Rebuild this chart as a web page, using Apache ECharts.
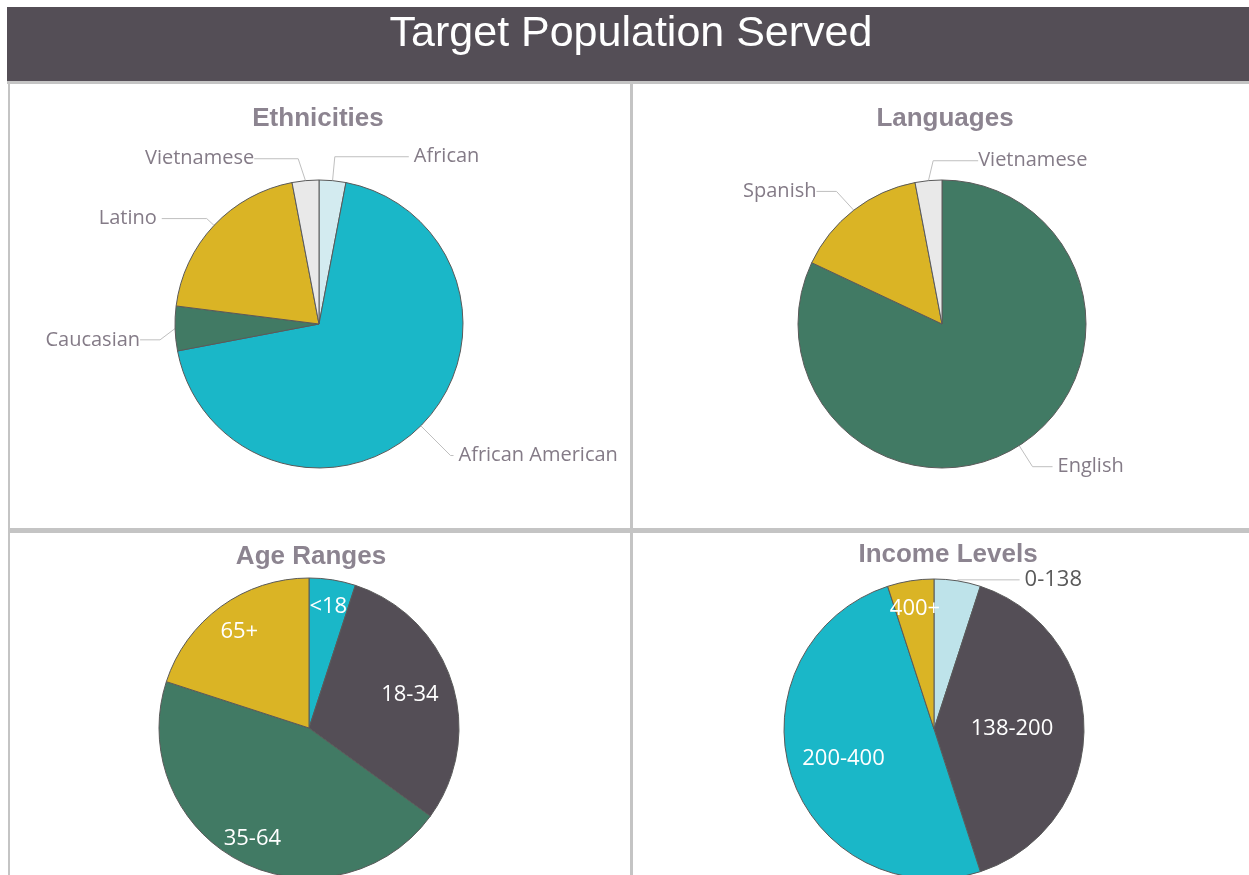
<!DOCTYPE html>
<html>
<head>
<meta charset="utf-8">
<title>Target Population Served</title>
<script src="https://cdn.jsdelivr.net/npm/echarts@6/dist/echarts.min.js"></script>
<style>
  html, body { margin: 0; padding: 0; background: #fff; }
  #main { width: 1249px; height: 875px; }
</style>
</head>
<body>
<div id="main"></div>
<script>
// data (percent shares)
const ethnicityNames = ['African', 'African American', 'Caucasian', 'Latino', 'Vietnamese'];
const ethnicityValues = [3, 69, 5, 20, 3];
const languageNames = ['English', 'Spanish', 'Vietnamese'];
const languageValues = [82, 15, 3];
const ageNames = ['<18', '18-34', '35-64', '65+'];
const ageValues = [5, 30, 45, 20];
const incomeNames = ['0-138', '138-200', '200-400', '400+'];
const incomeValues = [5, 40, 50, 5];

// colours
const TEAL = '#1ab7c8', GOLD = '#dab425', GREEN = '#417a64', DARK = '#544e56';
const ethnicityColors = ['#d3ebf0', TEAL, GREEN, GOLD, '#e9e9e9'];
const languageColors = [GREEN, GOLD, '#e9e9e9'];
const ageColors = [TEAL, DARK, GREEN, GOLD];
const incomeColors = ['#bee3ea', DARK, TEAL, GOLD];

// leader line lengths [length, length2] for the outside labels
const ethnicityLines = [[24, 74], [42, 3], [10, 20], [10, 45], [24, 44]];
const languageLines = [[25, 20], [20, 20], [22, 45]];
// nudges [dx, dy] for outside labels (Excel puts some on the other side)
const ethnicityShift = [[0, 0], [0, 0], [0, 11], [0, 0], [0, 2]];
const languageShift = [[0, 0], [0, -3], [211, 2]];
// how far out (share of radius) the inner labels sit
const ageLabelPos = [0.79, 0.68, 0.8, 0.76];
const incomeLabelPos = [null, 0.5, 0.61, 0.78];

const LABEL_FONT = 'Open Sans';
const labelGray = '#847b87';
const titleGray = '#8c8490';
const border = '#c4c4c4';

function outsidePie(names, values, colors, lines, shift, center, radius) {
  return {
    type: 'pie',
    center: center,
    radius: radius,
    startAngle: 90,
    clockwise: true,
    animation: false,
    itemStyle: { borderColor: '#5a5a5a', borderWidth: 1 },
    label: {
      show: true,
      position: 'outside',
      formatter: '{b}',
      color: labelGray,
      fontFamily: LABEL_FONT,
      fontSize: 20
    },
    labelLine: { show: true, lineStyle: { color: '#bfbfbf', width: 1 } },
    // moving a label with x/y makes echarts redraw its leader line
    labelLayout: function (p) {
      const s = shift[p.dataIndex];
      if (!s[0] && !s[1]) return {};
      return {
        x: p.labelRect.x + s[0],
        y: p.labelRect.y + s[1],
        align: 'left',
        verticalAlign: 'top'
      };
    },
    emphasis: { disabled: true },
    data: names.map((n, i) => ({
      name: n,
      value: values[i],
      itemStyle: { color: colors[i] },
      labelLine: { length: lines[i][0], length2: lines[i][1] }
    }))
  };
}

function insidePie(names, values, colors, pos, center, radius) {
  return {
    type: 'pie',
    center: center,
    radius: radius,
    startAngle: 90,
    clockwise: true,
    animation: false,
    itemStyle: { borderColor: '#5a5a5a', borderWidth: 1 },
    label: {
      show: true,
      position: 'inside',
      formatter: '{b}',
      color: '#fff',
      fontFamily: LABEL_FONT,
      fontSize: 22
    },
    labelLine: { show: false, lineStyle: { color: '#bfbfbf', width: 1 } },
    emphasis: { disabled: true },
    labelLayout: function (p) {
      const k = pos[p.dataIndex];
      if (k == null) return {};
      const lx = p.labelRect.x + p.labelRect.width / 2;
      const ly = p.labelRect.y + p.labelRect.height / 2;
      const f = k / 0.5 - 1;
      return { dx: (lx - center[0]) * f, dy: (ly - center[1]) * f };
    },
    data: names.map((n, i) => {
      const d = { name: n, value: values[i], itemStyle: { color: colors[i] } };
      if (pos[i] == null) {
        d.label = { position: 'outside', color: '#595959' };
        d.labelLine = { show: true, length: 1, length2: 62 };
      }
      return d;
    })
  };
}

const chart = echarts.init(document.getElementById('main'));

// title boxes carry 5px padding, so centres are given 5px to the left
const subTitle = (text, x, y) => ({
  text: text,
  left: x - 5,
  top: y,
  textAlign: 'center',
  textStyle: { color: titleGray, fontSize: 26, fontWeight: 'bold', fontFamily: 'Liberation Sans' }
});

const option = {
  backgroundColor: '#fff',
  title: [
    {
      text: 'Target Population Served',
      left: 626,
      top: 8,
      textAlign: 'center',
      textStyle: { color: '#fff', fontSize: 43, fontWeight: 'normal', fontFamily: 'Liberation Sans' }
    },
    subTitle('Ethnicities', 318, 101),
    subTitle('Languages', 945, 101),
    subTitle('Age Ranges', 311, 539),
    subTitle('Income Levels', 948, 537)
  ],
  graphic: [
    { type: 'rect', shape: { x: 7, y: 7, width: 1242, height: 74 }, style: { fill: DARK } },
    { type: 'rect', shape: { x: 7, y: 81, width: 1242, height: 3 }, style: { fill: border } },
    { type: 'rect', shape: { x: 8, y: 83, width: 2, height: 792 }, style: { fill: border } },
    { type: 'rect', shape: { x: 630, y: 83, width: 3, height: 792 }, style: { fill: border } },
    { type: 'rect', shape: { x: 8, y: 528, width: 1241, height: 5 }, style: { fill: border } }
  ],
  series: [
    outsidePie(ethnicityNames, ethnicityValues, ethnicityColors, ethnicityLines, ethnicityShift, [319, 324], 144),
    outsidePie(languageNames, languageValues, languageColors, languageLines, languageShift, [942, 324], 144),
    insidePie(ageNames, ageValues, ageColors, ageLabelPos, [309, 728], 150),
    insidePie(incomeNames, incomeValues, incomeColors, incomeLabelPos, [934, 729], 150)
  ]
};

chart.setOption(option);
</script>
</body>
</html>
